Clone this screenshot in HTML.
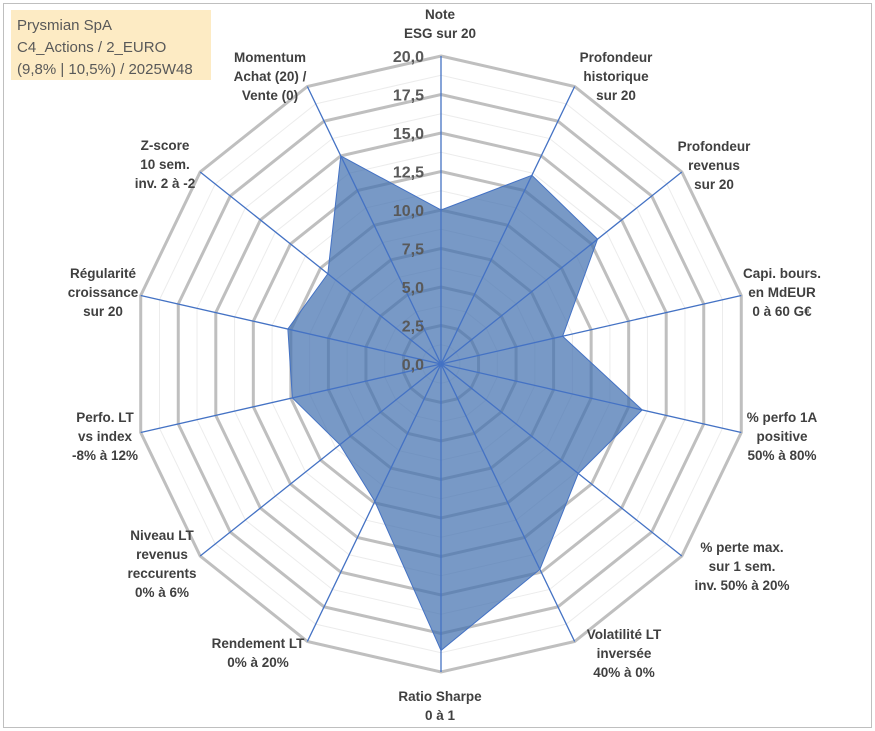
<!DOCTYPE html>
<html><head><meta charset="utf-8"><style>
body{margin:0;background:#fff;}
svg{display:block;font-family:"Liberation Sans",sans-serif;}
</style></head><body>
<svg id="chart" width="875" height="731">
<rect x="3.5" y="3.5" width="868" height="724" fill="#fff" stroke="#bfbfbf"/>
<rect x="11" y="10" width="200" height="70" fill="#fdebc4"/>
<g font-size="15" fill="#595959">
<text x="17" y="30">Prysmian SpA</text>
<text x="17" y="52">C4_Actions / 2_EURO</text>
<text x="17" y="74">(9,8% | 10,5%) / 2025W48</text>
</g>
<g id="grid"></g><g id="area"></g><g id="spokes"></g><g id="ticks"></g><g id="labels"></g>
</svg>
<script>
const categories=[["Note","ESG sur 20"],["Profondeur","historique","sur 20"],["Profondeur","revenus","sur 20"],["Capi. bours.","en MdEUR","0 à 60 G€"],["% perfo 1A","positive","50% à 80%"],["% perte max.","sur 1 sem.","inv. 50% à 20%"],["Volatilité LT","inversée","40% à 0%"],["Ratio Sharpe","0 à 1"],["Rendement LT","0% à 20%"],["Niveau LT","revenus","reccurents","0% à 6%"],["Perfo. LT","vs index","-8% à 12%"],["Régularité","croissance","sur 20"],["Z-score","10 sem.","inv. 2 à -2"],["Momentum","Achat (20) /","Vente (0)"]];
const values=[10,13.6,13,8.1,13.4,11.4,14.8,18.6,9.9,8.4,9.9,10.2,9.4,15];
const tickLabels=["0,0","2,5","5,0","7,5","10,0","12,5","15,0","17,5","20,0"];
const labelPos=[[440,14],[616,57],[714,146],[782,273],[782,417],[742,547],[624,634],[440,696],[258,643],[162,535],[105,417],[103,273],[165,145],[270,57]];
const cx=441,cy=364,R=308,maxV=20,N=categories.length;
const NS="http://www.w3.org/2000/svg";
function pt(i,v){const a=2*Math.PI*i/N;const r=v/maxV*R;return [cx+r*Math.sin(a),cy-r*Math.cos(a)];}
function mk(tag,attrs,parent){const e=document.createElementNS(NS,tag);for(const k in attrs)e.setAttribute(k,attrs[k]);parent.appendChild(e);return e;}
const grid=document.getElementById('grid');
for(let k=1;k<=16;k++){const v=k*1.25;const major=k%2===0;
 const p=mk('polygon',{points:categories.map((c,i)=>pt(i,v).join(',')).join(' '),fill:'none',stroke:major?'#bfbfbf':'#ececec','stroke-width':major?3:1},grid);
 
 }
const area=mk('polygon',{points:values.map((v,i)=>pt(i,v).join(',')).join(' '),fill:'rgba(68,114,176,0.72)',stroke:'#4472c4','stroke-width':1},document.getElementById('area'));


const sp=document.getElementById('spokes');
categories.forEach((c,i)=>{const [x,y]=pt(i,maxV);
 const l=mk('line',{x1:cx,y1:cy,x2:x,y2:y,stroke:'#4472c4','stroke-width':1.3},sp);
 
 });
const tk=document.getElementById('ticks');
tickLabels.forEach((t,k)=>{const y=cy-(k*2.5)/maxV*R;
 const e=mk('text',{x:424,y:y+6,'text-anchor':'end','font-size':16,'font-weight':'bold',fill:'#595959'},tk);
 e.textContent=t;
 
 });
const lb=document.getElementById('labels');
categories.forEach((lines,i)=>{const [x,y0]=labelPos[i];
 const g=mk('text',{'text-anchor':'middle','font-size':13.5,'font-weight':'bold',fill:'#404040'},lb);
 
 
 lines.forEach((s,j)=>{const t=mk('tspan',{x:x,y:y0+5+j*19},g);t.textContent=s;});});
</script>
</body></html>
